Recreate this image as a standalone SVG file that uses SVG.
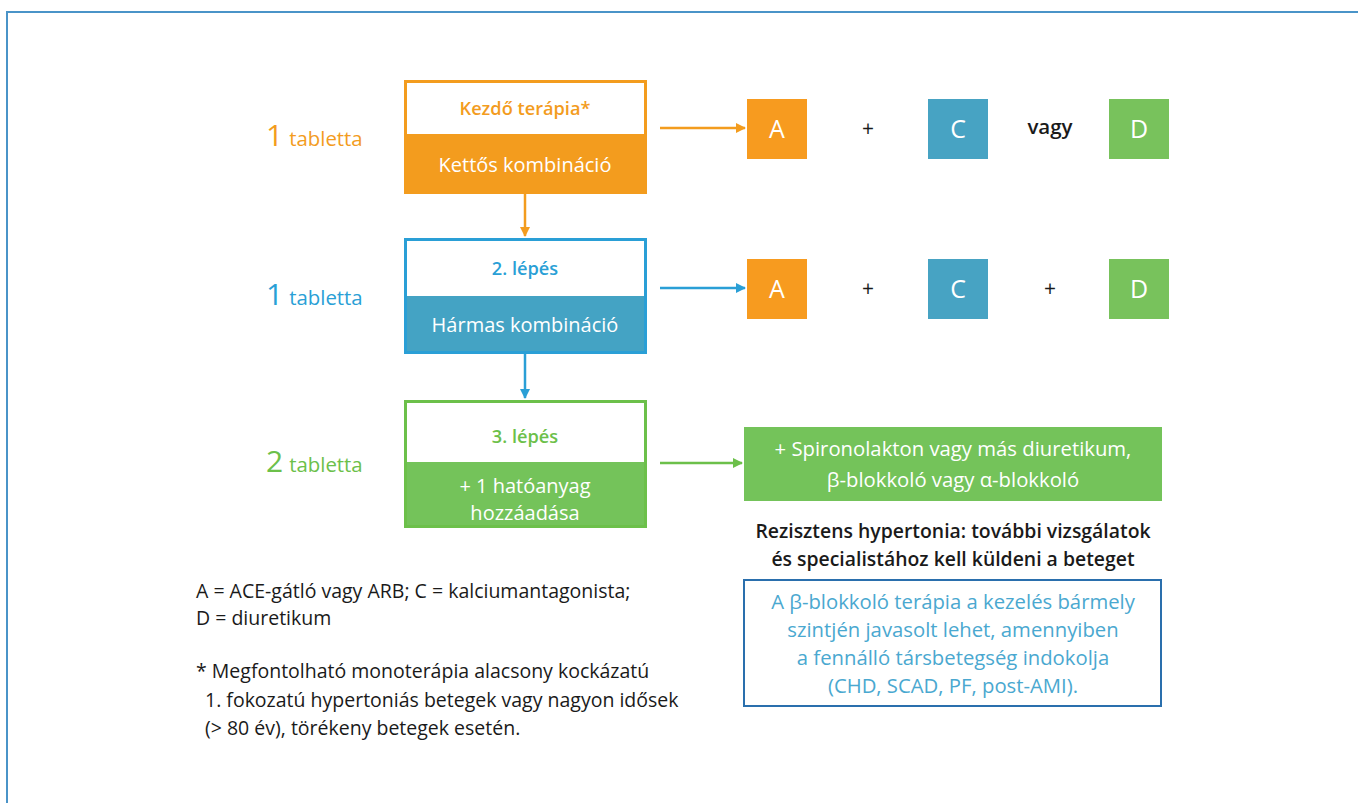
<svg xmlns="http://www.w3.org/2000/svg" width="1358" height="803" viewBox="0 0 1358 803">
<defs>
<style>
text{font-family:"Open Sans","Noto Sans","DejaVu Sans",sans-serif;}
.c{text-anchor:middle}
.w{fill:#ffffff}
.k{fill:#1a1a1a}
.big{font-size:30px}
.tab{font-size:20.4px}
.hd{font-size:18.2px;font-weight:600}
.bd{font-size:20px}
.sq{font-size:25px;fill:#ffffff}
.pl{font-size:21px;fill:#1a1a1a}
.note{font-size:19.5px;fill:#1a1a1a}
.info{font-size:20.3px;fill:#4aa8d0}
.res{font-size:19.4px;font-weight:600;fill:#1a1a1a}
</style>
<marker id="ao" markerWidth="10" markerHeight="10" refX="9" refY="5" orient="auto" markerUnits="userSpaceOnUse"><path d="M0,0 L10,5 L0,10 Z" fill="#f39c1e"/></marker>
<marker id="ab" markerWidth="10" markerHeight="10" refX="9" refY="5" orient="auto" markerUnits="userSpaceOnUse"><path d="M0,0 L10,5 L0,10 Z" fill="#2a9fd6"/></marker>
<marker id="ag" markerWidth="10" markerHeight="10" refX="9" refY="5" orient="auto" markerUnits="userSpaceOnUse"><path d="M0,0 L10,5 L0,10 Z" fill="#6cc04a"/></marker>
</defs>
<rect width="1358" height="803" fill="#ffffff"/>
<path d="M7,805 L7,12 L1360,12" fill="none" stroke="#4a94c8" stroke-width="2"/>

<g id="labels">
<text x="266" y="146" fill="#f39c1e"><tspan class="big">1</tspan><tspan class="tab" dx="6">tabletta</tspan></text>
<text x="266" y="305" fill="#2a9fd6"><tspan class="big">1</tspan><tspan class="tab" dx="6">tabletta</tspan></text>
<text x="266" y="472" fill="#6cc04a"><tspan class="big">2</tspan><tspan class="tab" dx="6">tabletta</tspan></text>
</g>

<g id="step1">
<rect x="405.5" y="81.5" width="240" height="111" fill="#ffffff" stroke="#f39c1e" stroke-width="3"/>
<rect x="405.5" y="134" width="240" height="58.5" fill="#f39c1e"/>
<text x="525" y="115" class="c hd" fill="#f39c1e">Kezdő terápia*</text>
<text x="525" y="172" class="c bd w">Kettős kombináció</text>
</g>

<g id="step2">
<rect x="405.5" y="239.5" width="240" height="113" fill="#ffffff" stroke="#2a9fd6" stroke-width="3"/>
<rect x="405.5" y="296" width="240" height="56.5" fill="#44a3c4"/>
<rect x="405.5" y="239.5" width="240" height="113" fill="none" stroke="#2a9fd6" stroke-width="3"/>
<text x="525" y="275" class="c hd" fill="#2a9fd6">2. lépés</text>
<text x="525" y="332" class="c bd w">Hármas kombináció</text>
</g>

<g id="step3">
<rect x="405.5" y="401.5" width="240" height="125" fill="#ffffff" stroke="#6cc04a" stroke-width="3"/>
<rect x="405.5" y="462" width="240" height="64.5" fill="#74c35a"/>
<rect x="405.5" y="401.5" width="240" height="125" fill="none" stroke="#6cc04a" stroke-width="3"/>
<text x="525" y="443" class="c hd" fill="#6cc04a">3. lépés</text>
<text x="525" y="493" class="c bd w">+ 1 hatóanyag</text>
<text x="525" y="520" class="c bd w">hozzáadása</text>
</g>

<g id="row1">
<rect x="747" y="99" width="60" height="60" fill="#f79b1f"/>
<text x="777" y="138" class="c sq">A</text>
<text x="868" y="136" class="c pl">+</text>
<rect x="928" y="99" width="60" height="60" fill="#47a3c3"/>
<text x="958" y="138" class="c sq">C</text>
<text x="1050" y="134" class="c k" style="font-size:20.5px;font-weight:600">vagy</text>
<rect x="1109" y="99" width="60" height="60" fill="#78c25c"/>
<text x="1139" y="138" class="c sq">D</text>
</g>

<g id="row2">
<rect x="747" y="259" width="60" height="60" fill="#f79b1f"/>
<text x="777" y="298" class="c sq">A</text>
<text x="868" y="296" class="c pl">+</text>
<rect x="928" y="259" width="60" height="60" fill="#47a3c3"/>
<text x="958" y="298" class="c sq">C</text>
<text x="1050" y="296" class="c pl">+</text>
<rect x="1109" y="259" width="60" height="60" fill="#78c25c"/>
<text x="1139" y="298" class="c sq">D</text>
</g>

<g id="addon">
<rect x="744" y="427" width="418" height="74" fill="#74c35a"/>
<text x="953" y="456" class="c w" style="font-size:20.3px">+ Spironolakton vagy más diuretikum,</text>
<text x="953" y="487" class="c w" style="font-size:20.3px">β-blokkoló vagy α-blokkoló</text>
</g>

<g id="resistant">
<text x="953" y="538" class="c res">Rezisztens hypertonia: további vizsgálatok</text>
<text x="953" y="566" class="c res">és specialistához kell küldeni a beteget</text>
</g>

<g id="betablock">
<rect x="744" y="580" width="417" height="126" fill="#ffffff" stroke="#2a6fad" stroke-width="2"/>
<text x="953" y="609" class="c info">A β-blokkoló terápia a kezelés bármely</text>
<text x="953" y="637" class="c info">szintjén javasolt lehet, amennyiben</text>
<text x="953" y="665" class="c info">a fennálló társbetegség indokolja</text>
<text x="953" y="693" class="c info">(CHD, SCAD, PF, post-AMI).</text>
</g>

<g id="legend">
<text x="196" y="598" class="note">A = ACE-gátló vagy ARB; C = kalciumantagonista;</text>
<text x="196" y="625" class="note">D = diuretikum</text>
<text x="196" y="678" class="note">* Megfontolható monoterápia alacsony kockázatú</text>
<text x="205" y="707" class="note">1. fokozatú hypertoniás betegek vagy nagyon idősek</text>
<text x="205" y="735" class="note">(&gt; 80 év), törékeny betegek esetén.</text>
</g>

<g id="connectors" fill="none" stroke-width="2.5">
<line x1="525" y1="194" x2="525" y2="236" stroke="#f39c1e" marker-end="url(#ao)"/>
<line x1="525" y1="354" x2="525" y2="398" stroke="#2a9fd6" marker-end="url(#ab)"/>
<line x1="660" y1="128" x2="745" y2="128" stroke="#f39c1e" marker-end="url(#ao)"/>
<line x1="660" y1="288" x2="745" y2="288" stroke="#2a9fd6" marker-end="url(#ab)"/>
<line x1="660" y1="463" x2="742" y2="463" stroke="#6cc04a" marker-end="url(#ag)"/>
</g>
</svg>
